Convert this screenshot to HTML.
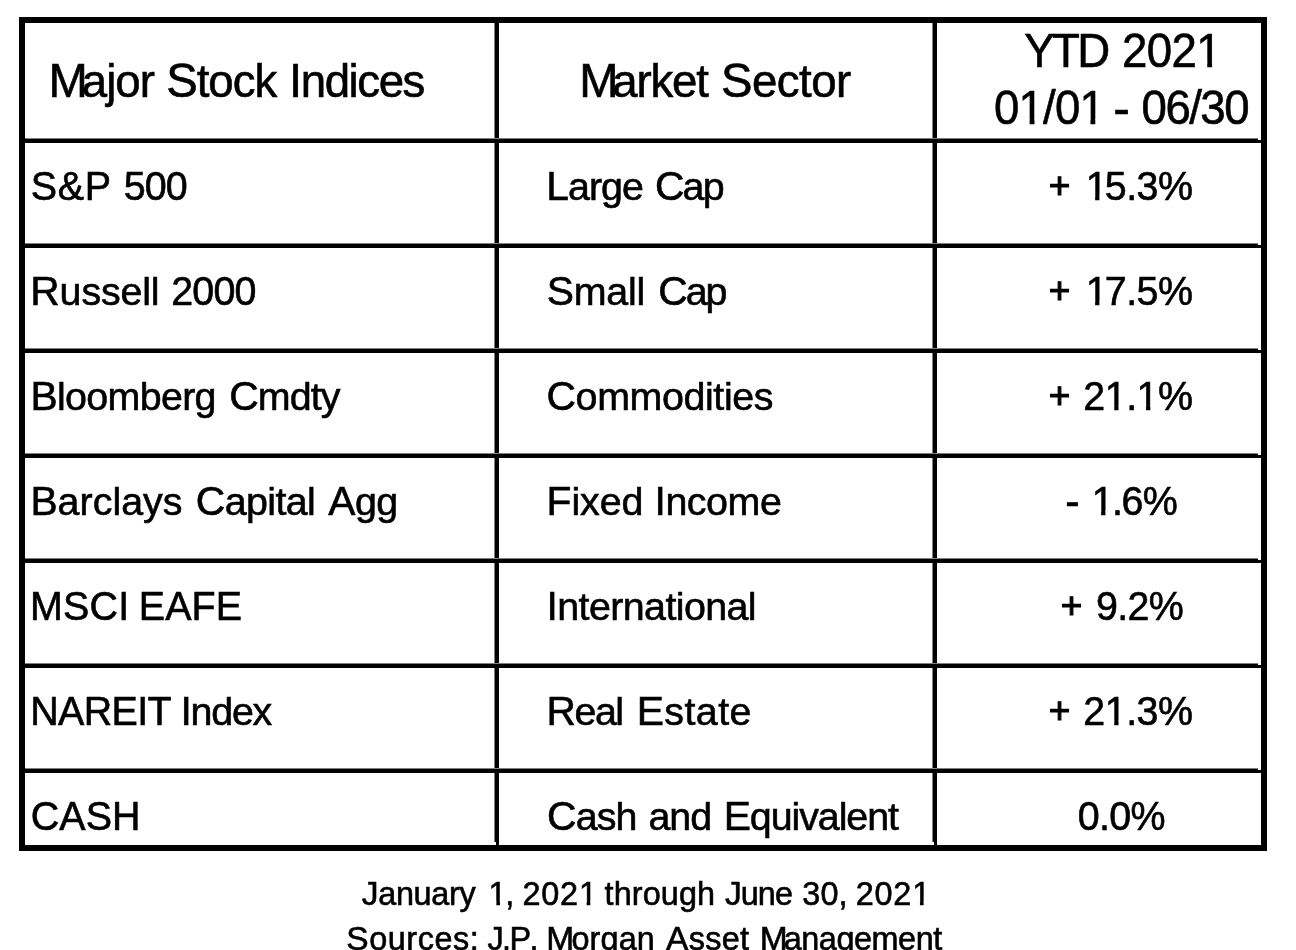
<!DOCTYPE html>
<html lang="en"><head><meta charset="utf-8">
<title>Major Stock Indices YTD 2021</title>
<style>
html,body{margin:0;padding:0;background:#fff;}
body{width:1296px;height:950px;position:relative;overflow:hidden;font-family:"Liberation Sans",sans-serif;color:#000;}
.b{position:absolute;background:#000;}
.g{background:#7f7f7f;}
.w{position:absolute;background:#fff;}
.t{position:absolute;white-space:pre;line-height:60px;height:60px;font-kerning:none;font-variant-ligatures:none;-webkit-text-stroke:0.6px #000;letter-spacing:var(--ls,0px);}
.h{font-size:45.6px;}
.r{font-size:39.4px;}
.f{font-size:32.4px;}
.c::first-letter{font-size:103.5%;line-height:0;letter-spacing:calc(var(--ls,0px) + var(--m,0px));}
.o::first-letter{margin-left:.055em;letter-spacing:calc(var(--ls,0px) - .055em);}
.p::first-letter{margin-left:.055em;letter-spacing:calc(var(--ls,0px) - .0275em);}
.k{transform:scaleY(1.035);}
.h.k{transform-origin:0 45px;}
.r.k{transform-origin:0 44px;}
.f.k{transform-origin:0 41px;}
</style></head><body>
<div class="b" style="left:19px;top:17px;width:1248px;height:6px"></div>
<div class="b" style="left:19px;top:845px;width:1248px;height:6px"></div>
<div class="b" style="left:19px;top:17px;width:6px;height:834px"></div>
<div class="b" style="left:1261px;top:17px;width:6px;height:834px"></div>
<div class="b g" style="left:494px;top:23px;width:1px;height:822px"></div>
<div class="b" style="left:495px;top:23px;width:4px;height:822px"></div>
<div class="b g" style="left:932px;top:23px;width:1px;height:822px"></div>
<div class="b" style="left:933px;top:23px;width:4px;height:822px"></div>
<div class="b g" style="left:25px;top:138px;width:1233px;height:1px"></div><div class="b" style="left:25px;top:139px;width:1236px;height:4px"></div><div class="w" style="left:1258px;top:139px;width:3px;height:1px"></div>
<div class="b g" style="left:25px;top:243px;width:1233px;height:1px"></div><div class="b" style="left:25px;top:244px;width:1236px;height:4px"></div><div class="w" style="left:1258px;top:244px;width:3px;height:1px"></div>
<div class="b g" style="left:25px;top:348px;width:1233px;height:1px"></div><div class="b" style="left:25px;top:349px;width:1236px;height:4px"></div><div class="w" style="left:1258px;top:349px;width:3px;height:1px"></div>
<div class="b g" style="left:25px;top:453px;width:1233px;height:1px"></div><div class="b" style="left:25px;top:454px;width:1236px;height:4px"></div><div class="w" style="left:1258px;top:454px;width:3px;height:1px"></div>
<div class="b g" style="left:25px;top:558px;width:1233px;height:1px"></div><div class="b" style="left:25px;top:559px;width:1236px;height:4px"></div><div class="w" style="left:1258px;top:559px;width:3px;height:1px"></div>
<div class="b g" style="left:25px;top:663px;width:1233px;height:1px"></div><div class="b" style="left:25px;top:664px;width:1236px;height:4px"></div><div class="w" style="left:1258px;top:664px;width:3px;height:1px"></div>
<div class="b g" style="left:25px;top:768px;width:1233px;height:1px"></div><div class="b" style="left:25px;top:769px;width:1236px;height:4px"></div><div class="w" style="left:1258px;top:769px;width:3px;height:1px"></div>
<div class="w" style="left:494px;top:842px;width:2px;height:3px"></div><div class="w" style="left:932px;top:842px;width:2px;height:3px"></div>
<span class="t h c" style="left:48.45px;top:52px;--m:-5.0px;--ls:-0.97px">Major</span>
<span class="t h c" style="left:166.15px;top:52px;--ls:-0.98px">Stock</span>
<span class="t h c" style="left:289.00px;top:52px;--ls:-1.42px">Indices</span>
<span class="t h c" style="left:579.20px;top:52px;--m:-5.0px;--ls:-1.21px">Market</span>
<span class="t h c" style="left:721.05px;top:52px;--ls:-0.55px">Sector</span>
<span class="t h k" style="left:1024.30px;top:22px;--ls:-2.62px">YTD</span>
<span class="t h k" style="left:1121.90px;top:22px;--ls:-0.59px">2021</span>
<span class="t h k" style="left:994.10px;top:79px;--ls:-0.86px">01/01</span>
<span class="t h" style="left:1113.22px;top:78px;font-size:50.16px">-</span>
<span class="t h k" style="left:1141.60px;top:79px;--ls:-1.55px">06/30</span>
<span class="t r k" style="left:30.80px;top:156px;--ls:0.75px">S&amp;P</span>
<span class="t r k" style="left:123.75px;top:156px;--ls:-0.88px">500</span>
<span class="t r c" style="left:546.30px;top:156px;--ls:-0.97px">Large</span>
<span class="t r c" style="left:654.95px;top:156px;--ls:-1.83px">Cap</span>
<span class="t r" style="left:1048.65px;top:156px;font-size:36.96px;-webkit-text-stroke-width:1.15px">+</span>
<span class="t r k o" style="left:1083.47px;top:156px;--ls:-0.54px">15.3%</span>
<span class="t r c" style="left:30.30px;top:261px;--ls:-0.14px">Russell</span>
<span class="t r k" style="left:171.35px;top:261px;--ls:-0.88px">2000</span>
<span class="t r c" style="left:546.80px;top:261px;--ls:-0.25px">Small</span>
<span class="t r c" style="left:658.25px;top:261px;--ls:-2.07px">Cap</span>
<span class="t r" style="left:1048.65px;top:261px;font-size:36.96px;-webkit-text-stroke-width:1.15px">+</span>
<span class="t r k o" style="left:1083.47px;top:261px;--ls:-0.54px">17.5%</span>
<span class="t r c" style="left:30.40px;top:366px;--ls:-0.66px">Bloomberg</span>
<span class="t r c" style="left:229.15px;top:366px;--ls:-0.89px">Cmdty</span>
<span class="t r c" style="left:546.55px;top:366px;--ls:-0.39px">Commodities</span>
<span class="t r" style="left:1048.65px;top:366px;font-size:36.96px;-webkit-text-stroke-width:1.15px">+</span>
<span class="t r k" style="left:1083.35px;top:366px;--ls:-0.51px">21.1%</span>
<span class="t r c" style="left:30.40px;top:471px;--ls:0.02px">Barclays</span>
<span class="t r c" style="left:195.85px;top:471px;--ls:-0.62px">Capital</span>
<span class="t r c" style="left:328.35px;top:471px;--ls:-0.65px">Agg</span>
<span class="t r c" style="left:546.60px;top:471px;--ls:-0.08px">Fixed</span>
<span class="t r c" style="left:654.50px;top:471px;--ls:-0.44px">Income</span>
<span class="t r" style="left:1065.25px;top:471px;font-size:43.34px">-</span>
<span class="t r k p" style="left:1089.47px;top:471px;--ls:-0.47px">1.6%</span>
<span class="t r k" style="left:30.00px;top:576px;--ls:0.22px">MSCI</span>
<span class="t r k" style="left:138.70px;top:576px;--ls:0.17px">EAFE</span>
<span class="t r c" style="left:546.50px;top:576px;--ls:-0.59px">International</span>
<span class="t r" style="left:1060.70px;top:576px;font-size:36.96px;-webkit-text-stroke-width:1.15px">+</span>
<span class="t r k" style="left:1095.90px;top:576px;--ls:-0.62px">9.2%</span>
<span class="t r k" style="left:30.30px;top:681px;--ls:-0.65px">NAREIT</span>
<span class="t r c" style="left:180.50px;top:681px;--ls:-1.24px">Index</span>
<span class="t r c" style="left:546.60px;top:681px;--ls:-1.52px">Real</span>
<span class="t r c" style="left:636.70px;top:681px;--ls:0.45px">Estate</span>
<span class="t r" style="left:1048.65px;top:681px;font-size:36.96px;-webkit-text-stroke-width:1.15px">+</span>
<span class="t r k" style="left:1083.35px;top:681px;--ls:-0.51px">21.3%</span>
<span class="t r k" style="left:30.65px;top:786px;--ls:0.15px">CASH</span>
<span class="t r c" style="left:547.05px;top:786px;--ls:-0.83px">Cash</span>
<span class="t r" style="left:648.50px;top:786px;--ls:-1.05px">and</span>
<span class="t r c" style="left:723.70px;top:786px;--ls:-1.07px">Equivalent</span>
<span class="t r k" style="left:1077.65px;top:786px;--ls:-0.67px">0.0%</span>
<span class="t f c" style="left:361.75px;top:864px;--ls:-0.31px">January</span>
<span class="t f k" style="left:488.62px;top:864px;--ls:-1.42px">1,</span>
<span class="t f k" style="left:522.55px;top:864px;--ls:0.77px">2021</span>
<span class="t f" style="left:604.55px;top:864px;--ls:0.11px">through</span>
<span class="t f c" style="left:724.95px;top:864px;--ls:-0.93px">June</span>
<span class="t f k" style="left:802.20px;top:864px;--ls:0.20px">30,</span>
<span class="t f k" style="left:855.65px;top:864px;--ls:0.84px">2021</span>
<span class="t f c" style="left:346.35px;top:909px;--ls:0.54px">Sources:</span>
<span class="t f k" style="left:487.55px;top:909px;--ls:-1.63px">J.P.</span>
<span class="t f c" style="left:546.30px;top:909px;--m:-3.0px;--ls:0.16px">Morgan</span>
<span class="t f c" style="left:666.05px;top:909px;--ls:0.30px">Asset</span>
<span class="t f c" style="left:759.70px;top:909px;--m:-3.5px;--ls:-0.44px">Management</span>
<svg id="mk" width="1296" height="950" style="position:absolute;left:0;top:0;pointer-events:none"><rect x="1198.36" y="62.27" width="8.87" height="6.33" fill="#fff"/><rect x="1212.10" y="62.27" width="8.42" height="6.33" fill="#fff"/><rect x="1020.75" y="119.27" width="8.87" height="6.33" fill="#fff"/><rect x="1034.49" y="119.27" width="8.14" height="6.33" fill="#fff"/><rect x="1081.57" y="119.27" width="8.87" height="6.33" fill="#fff"/><rect x="1095.31" y="119.27" width="8.42" height="6.33" fill="#fff"/><rect x="1087.33" y="195.75" width="7.79" height="5.85" fill="#fff"/><rect x="1099.43" y="195.75" width="7.38" height="5.85" fill="#fff"/><rect x="1087.33" y="300.75" width="7.79" height="5.85" fill="#fff"/><rect x="1099.43" y="300.75" width="7.38" height="5.85" fill="#fff"/><rect x="1106.44" y="405.75" width="7.79" height="5.85" fill="#fff"/><rect x="1118.54" y="405.75" width="7.38" height="5.85" fill="#fff"/><rect x="1138.26" y="405.75" width="7.79" height="5.85" fill="#fff"/><rect x="1150.37" y="405.75" width="7.38" height="5.85" fill="#fff"/><rect x="1093.33" y="510.75" width="7.79" height="5.85" fill="#fff"/><rect x="1105.43" y="510.75" width="7.38" height="5.85" fill="#fff"/><rect x="1106.44" y="720.75" width="7.79" height="5.85" fill="#fff"/><rect x="1118.54" y="720.75" width="7.38" height="5.85" fill="#fff"/><rect x="489.78" y="901.30" width="6.56" height="5.30" fill="#fff"/><rect x="500.04" y="901.30" width="6.21" height="5.30" fill="#fff"/><rect x="580.06" y="901.30" width="6.56" height="5.30" fill="#fff"/><rect x="590.32" y="901.30" width="6.21" height="5.30" fill="#fff"/><rect x="913.36" y="901.30" width="6.56" height="5.30" fill="#fff"/><rect x="923.62" y="901.30" width="6.21" height="5.30" fill="#fff"/></svg>
</body></html>
